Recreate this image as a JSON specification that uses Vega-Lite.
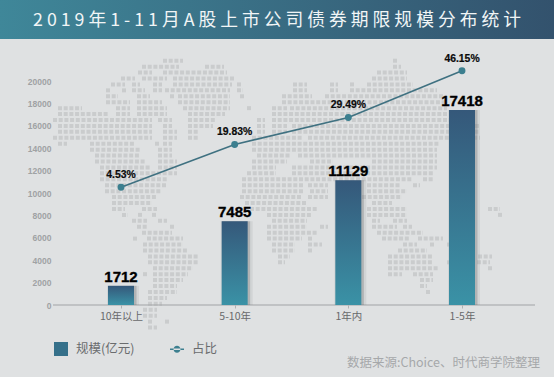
{
"$schema":"https://vega.github.io/schema/vega-lite/v6.json",
"width":554,"height":377,
"padding":0,
"autosize":{"type":"none"},
"background":"#dfe1e2",
"view":{"stroke":null},
"datasets":{
"bars":[{"cat":"10年以上","v":1712},{"cat":"5-10年","v":7485},{"cat":"1年内","v":11129},{"cat":"1-5年","v":17418}],
"pct":[{"cat":"10年以上","p":4.53,"s":"占比","l":"4.53%"},{"cat":"5-10年","p":19.83,"s":"占比","l":"19.83%"},{"cat":"1年内","p":29.49,"s":"占比","l":"29.49%"},{"cat":"1-5年","p":46.15,"s":"占比","l":"46.15%"}],
"map":[
{"r":0,"a":163,"b":183},{"r":0,"a":393,"b":397},
{"r":1,"a":142,"b":179},{"r":1,"a":205,"b":224},{"r":1,"a":393,"b":401},
{"r":2,"a":138,"b":152},{"r":2,"a":163,"b":227},{"r":2,"a":377,"b":407},
{"r":3,"a":121,"b":135},{"r":3,"a":142,"b":167},{"r":3,"a":173,"b":235},{"r":3,"a":372,"b":407},
{"r":4,"a":111,"b":125},{"r":4,"a":132,"b":140},{"r":4,"a":153,"b":162},{"r":4,"a":173,"b":232},{"r":4,"a":237,"b":241},{"r":4,"a":293,"b":307},{"r":4,"a":330,"b":338},{"r":4,"a":350,"b":354},{"r":4,"a":367,"b":413},
{"r":5,"a":106,"b":110},{"r":5,"a":122,"b":126},{"r":5,"a":132,"b":145},{"r":5,"a":153,"b":162},{"r":5,"a":165,"b":230},{"r":5,"a":237,"b":243},{"r":5,"a":293,"b":307},{"r":5,"a":330,"b":338},{"r":5,"a":350,"b":437},
{"r":6,"a":106,"b":118},{"r":6,"a":137,"b":150},{"r":6,"a":170,"b":174},{"r":6,"a":178,"b":230},{"r":6,"a":240,"b":244},{"r":6,"a":282,"b":312},{"r":6,"a":325,"b":443},
{"r":7,"a":106,"b":130},{"r":7,"a":137,"b":162},{"r":7,"a":178,"b":230},{"r":7,"a":282,"b":447},
{"r":8,"a":58,"b":82},{"r":8,"a":116,"b":130},{"r":8,"a":137,"b":167},{"r":8,"a":183,"b":230},{"r":8,"a":247,"b":251},{"r":8,"a":272,"b":287},{"r":8,"a":290,"b":447},
{"r":9,"a":58,"b":108},{"r":9,"a":116,"b":130},{"r":9,"a":137,"b":167},{"r":9,"a":188,"b":225},{"r":9,"a":272,"b":447},
{"r":10,"a":53,"b":152},{"r":10,"a":158,"b":172},{"r":10,"a":188,"b":215},{"r":10,"a":257,"b":265},{"r":10,"a":272,"b":450},
{"r":11,"a":58,"b":152},{"r":11,"a":163,"b":172},{"r":11,"a":188,"b":213},{"r":11,"a":257,"b":265},{"r":11,"a":272,"b":287},{"r":11,"a":292,"b":450},{"r":11,"a":475,"b":480},
{"r":12,"a":58,"b":152},{"r":12,"a":163,"b":177},{"r":12,"a":188,"b":198},{"r":12,"a":257,"b":265},{"r":12,"a":272,"b":287},{"r":12,"a":292,"b":480},
{"r":13,"a":53,"b":152},{"r":13,"a":163,"b":177},{"r":13,"a":188,"b":198},{"r":13,"a":252,"b":303},{"r":13,"a":308,"b":480},
{"r":14,"a":58,"b":67},{"r":14,"a":90,"b":135},{"r":14,"a":155,"b":159},{"r":14,"a":163,"b":172},{"r":14,"a":252,"b":440},
{"r":15,"a":90,"b":140},{"r":15,"a":158,"b":172},{"r":15,"a":252,"b":437},
{"r":16,"a":95,"b":140},{"r":16,"a":158,"b":172},{"r":16,"a":257,"b":290},{"r":16,"a":298,"b":437},
{"r":17,"a":95,"b":145},{"r":17,"a":158,"b":177},{"r":17,"a":252,"b":287},{"r":17,"a":310,"b":333},{"r":17,"a":372,"b":437},
{"r":18,"a":100,"b":150},{"r":18,"a":158,"b":177},{"r":18,"a":252,"b":276},{"r":18,"a":292,"b":437},
{"r":19,"a":100,"b":177},{"r":19,"a":247,"b":276},{"r":19,"a":292,"b":433},
{"r":20,"a":100,"b":167},{"r":20,"a":242,"b":413},{"r":20,"a":423,"b":433},
{"r":21,"a":105,"b":167},{"r":21,"a":242,"b":303},{"r":21,"a":308,"b":328},{"r":21,"a":367,"b":400},{"r":21,"a":413,"b":420},
{"r":22,"a":105,"b":162},{"r":22,"a":242,"b":303},{"r":22,"a":310,"b":328},{"r":22,"a":367,"b":407},
{"r":23,"a":112,"b":157},{"r":23,"a":240,"b":302},{"r":23,"a":308,"b":328},{"r":23,"a":362,"b":402},
{"r":24,"a":112,"b":152},{"r":24,"a":245,"b":307},{"r":24,"a":372,"b":392},
{"r":25,"a":112,"b":125},{"r":25,"a":142,"b":157},{"r":25,"a":250,"b":317},{"r":25,"a":367,"b":407},{"r":25,"a":488,"b":500},
{"r":26,"a":122,"b":128},{"r":26,"a":138,"b":142},{"r":26,"a":152,"b":157},{"r":26,"a":267,"b":312},{"r":26,"a":367,"b":407},{"r":26,"a":498,"b":502},
{"r":27,"a":132,"b":147},{"r":27,"a":158,"b":167},{"r":27,"a":272,"b":307},{"r":27,"a":372,"b":380},{"r":27,"a":393,"b":407},
{"r":28,"a":137,"b":147},{"r":28,"a":170,"b":174},{"r":28,"a":267,"b":307},{"r":28,"a":320,"b":328},{"r":28,"a":372,"b":397},{"r":28,"a":403,"b":412},
{"r":29,"a":142,"b":172},{"r":29,"a":267,"b":317},{"r":29,"a":377,"b":423},
{"r":30,"a":133,"b":137},{"r":30,"a":147,"b":183},{"r":30,"a":267,"b":302},{"r":30,"a":308,"b":312},{"r":30,"a":382,"b":410},{"r":30,"a":418,"b":443},
{"r":31,"a":143,"b":183},{"r":31,"a":272,"b":295},{"r":31,"a":308,"b":322},{"r":31,"a":403,"b":417},{"r":31,"a":430,"b":434},{"r":31,"a":447,"b":451},
{"r":32,"a":143,"b":188},{"r":32,"a":272,"b":295},{"r":32,"a":308,"b":312},{"r":32,"a":398,"b":427},
{"r":33,"a":148,"b":198},{"r":33,"a":278,"b":290},{"r":33,"a":388,"b":433},{"r":33,"a":478,"b":492},
{"r":34,"a":148,"b":198},{"r":34,"a":278,"b":285},{"r":34,"a":388,"b":433},{"r":34,"a":447,"b":451},{"r":34,"a":477,"b":490},
{"r":35,"a":153,"b":193},{"r":35,"a":388,"b":438},{"r":35,"a":488,"b":492},
{"r":36,"a":143,"b":147},{"r":36,"a":153,"b":188},{"r":36,"a":388,"b":402},{"r":36,"a":413,"b":433},
{"r":37,"a":153,"b":183},{"r":37,"a":420,"b":433},
{"r":38,"a":153,"b":177},{"r":38,"a":420,"b":427},
{"r":39,"a":148,"b":177},{"r":39,"a":426,"b":430},
{"r":40,"a":148,"b":167},
{"r":41,"a":148,"b":162},
{"r":42,"a":143,"b":157},
{"r":43,"a":143,"b":157},
{"r":44,"a":148,"b":152},{"r":44,"a":165,"b":169},
{"r":45,"a":148,"b":157}
]
},
"resolve":{"scale":{"x":"independent","y":"independent"},"axis":{"x":"independent","y":"independent"}},
"layer":[
{"data":{"values":[{"x0":0,"x1":1}]},
 "mark":{"type":"rect","y":0,"y2":39,"fill":{"x1":0,"y1":0,"x2":1,"y2":0,"gradient":"linear","stops":[{"offset":0,"color":"#3f8799"},{"offset":1,"color":"#33526d"}]}},
 "encoding":{"x":{"field":"x0","type":"quantitative","scale":{"domain":[0,1],"nice":false},"axis":null},"x2":{"field":"x1"}}},
{"data":{"values":[{"t":"2 0 1 9 年 1 - 1 1 月 A 股 上 市 公 司 债 券 期 限 规 模 分 布 统 计"}]},
 "mark":{"type":"text","x":277,"y":21,"align":"center","baseline":"middle","font":"Noto Sans CJK SC","fontSize":17.8,"color":"#f1f5f6"},
 "encoding":{"text":{"field":"t","type":"nominal"}}},
{"data":{"name":"map"},
 "mark":{"type":"rule","strokeWidth":4,"strokeDash":[4,1.7],"color":"#cacccd"},
 "encoding":{
  "x":{"field":"a","type":"quantitative","scale":{"domain":[0,554],"nice":false,"zero":false},"axis":null},
  "x2":{"field":"b"},
  "y":{"field":"r","type":"quantitative","scale":{"domain":[-10.236,53.34],"reverse":true,"nice":false,"zero":false},"axis":null}}},
{"data":{"values":[{"a":53,"b":535,"v":0}]},
 "mark":{"type":"rule","strokeWidth":1.2,"color":"#a2a4a5"},
 "encoding":{
  "x":{"field":"a","type":"quantitative","scale":{"domain":[0,554],"nice":false,"zero":false},"axis":null},
  "x2":{"field":"b"},
  "y":{"field":"v","type":"quantitative","scale":{"domain":[-6428,27232],"nice":false,"zero":false},"axis":null}}},
{"data":{"name":"bars"},
 "mark":{"type":"bar","width":32,"xOffset":2,"fill":"#77797b","opacity":0.12},
 "encoding":{
  "x":{"field":"cat","type":"nominal","sort":null,"scale":{"type":"point","padding":0,"domain":["10年以上","5-10年","1年内","1-5年"],"range":[121,462]},"axis":null},
  "y":{"field":"v","type":"quantitative","stack":null,"scale":{"domain":[-6428,27232],"nice":false,"zero":false},"axis":null}}},
{"data":{"name":"bars"},
 "mark":{"type":"bar","width":28,"xOffset":1.5,"fill":"#66686a","opacity":0.3},
 "encoding":{
  "x":{"field":"cat","type":"nominal","sort":null,"scale":{"type":"point","padding":0,"domain":["10年以上","5-10年","1年内","1-5年"],"range":[121,462]},"axis":null},
  "y":{"field":"v","type":"quantitative","stack":null,"scale":{"domain":[-6428,27232],"nice":false,"zero":false},"axis":null}}},
{"data":{"name":"bars"},
 "mark":{"type":"bar","width":26,"fill":{"x1":0,"y1":0,"x2":0,"y2":1,"gradient":"linear","stops":[{"offset":0,"color":"#35587a"},{"offset":1,"color":"#3a92a6"}]}},
 "encoding":{
  "x":{"field":"cat","type":"nominal","sort":null,"scale":{"type":"point","padding":0,"domain":["10年以上","5-10年","1年内","1-5年"],"range":[121,462]},
    "axis":{"orient":"bottom","offset":-72,"title":null,"domain":false,"ticks":true,"tickSize":3,"tickColor":"#b0b2b3","labelAngle":0,"labelPadding":3,"labelFont":"Noto Sans CJK SC","labelFontSize":10.5,"labelColor":"#68696b","grid":false,"labelOverlap":false}},
  "y":{"field":"v","type":"quantitative","stack":null,"scale":{"domain":[-6428,27232],"nice":false,"zero":false},
    "axis":{"orient":"left","offset":-53,"title":null,"domain":false,"ticks":false,"grid":false,"values":[0,2000,4000,6000,8000,10000,12000,14000,16000,18000,20000],"format":"d","labelPadding":2,"labelFont":"Liberation Sans","labelFontWeight":"bold","labelFontSize":8.5,"labelColor":"#a0a2a4"}}}},
{"data":{"name":"bars"},
 "mark":{"type":"text","baseline":"alphabetic","dy":-4,"font":"Liberation Sans","fontWeight":"bold","fontSize":15,"color":"#000000","stroke":"#000000","strokeWidth":0.35},
 "encoding":{
  "x":{"field":"cat","type":"nominal","sort":null,"scale":{"type":"point","padding":0,"domain":["10年以上","5-10年","1年内","1-5年"],"range":[121,462]},"axis":null},
  "y":{"field":"v","type":"quantitative","stack":null,"scale":{"domain":[-6428,27232],"nice":false,"zero":false},"axis":null},
  "text":{"field":"v","type":"quantitative","format":"d"}}},
{"data":{"name":"pct"},
 "mark":{"type":"line","strokeWidth":1.6,"color":"#3f7181"},
 "encoding":{
  "x":{"field":"cat","type":"nominal","sort":null,"scale":{"type":"point","padding":0,"domain":["10年以上","5-10年","1年内","1-5年"],"range":[121,462]},"axis":null},
  "y":{"field":"p","type":"quantitative","scale":{"domain":[-63.21,71.43],"nice":false,"zero":false},"axis":null}}},
{"data":{"name":"pct"},
 "mark":{"type":"point","filled":true,"opacity":1,"size":48},
 "encoding":{
  "x":{"field":"cat","type":"nominal","sort":null,"scale":{"type":"point","padding":0,"domain":["10年以上","5-10年","1年内","1-5年"],"range":[121,462]},"axis":null},
  "y":{"field":"p","type":"quantitative","scale":{"domain":[-63.21,71.43],"nice":false,"zero":false},"axis":null},
  "color":{"field":"s","type":"nominal","scale":{"domain":["规模(亿元)","占比"],"range":["#35708a","#3c7f8f"]},
   "legend":{"orient":"none","legendX":54,"legendY":342,"direction":"horizontal","title":null,"symbolSize":196,"labelFont":"Noto Sans CJK SC","labelFontSize":12.5,"labelColor":"#6a6c6e","columnPadding":35,"labelOffset":8,"symbolStrokeWidth":0,"symbolOpacity":1,
    "encoding":{"symbols":{
      "shape":{"condition":{"test":"datum.value==='占比'","value":"M-1,-0.09H1V0.09H-1ZM-0.5,0A0.5,0.5 0 1,0 0.5,0A0.5,0.5 0 1,0 -0.5,0Z"},"value":"square"},
      "fill":{"condition":{"test":"datum.value==='占比'","value":"#3c7f8f"},"value":{"x1":0,"y1":0,"x2":1,"y2":0,"gradient":"linear","stops":[{"offset":0,"color":"#3a92a6"},{"offset":1,"color":"#35587a"}]}}}}}}}},
{"data":{"name":"pct"},
 "mark":{"type":"text","baseline":"middle","dy":-12,"font":"Liberation Sans","fontWeight":"bold","fontSize":10.4,"color":"#0a0a0a","stroke":"#0a0a0a","strokeWidth":0.2},
 "encoding":{
  "x":{"field":"cat","type":"nominal","sort":null,"scale":{"type":"point","padding":0,"domain":["10年以上","5-10年","1年内","1-5年"],"range":[121,462]},"axis":null},
  "y":{"field":"p","type":"quantitative","scale":{"domain":[-63.21,71.43],"nice":false,"zero":false},"axis":null},
  "text":{"field":"l","type":"nominal"}}},
{"data":{"values":[{"t":"数据来源:Choice、时代商学院整理"}]},
 "mark":{"type":"text","x":540,"y":362.7,"align":"right","baseline":"middle","font":"Noto Sans CJK SC","fontSize":12.5,"color":"#a6a8aa"},
 "encoding":{"text":{"field":"t","type":"nominal"}}}
]
}
